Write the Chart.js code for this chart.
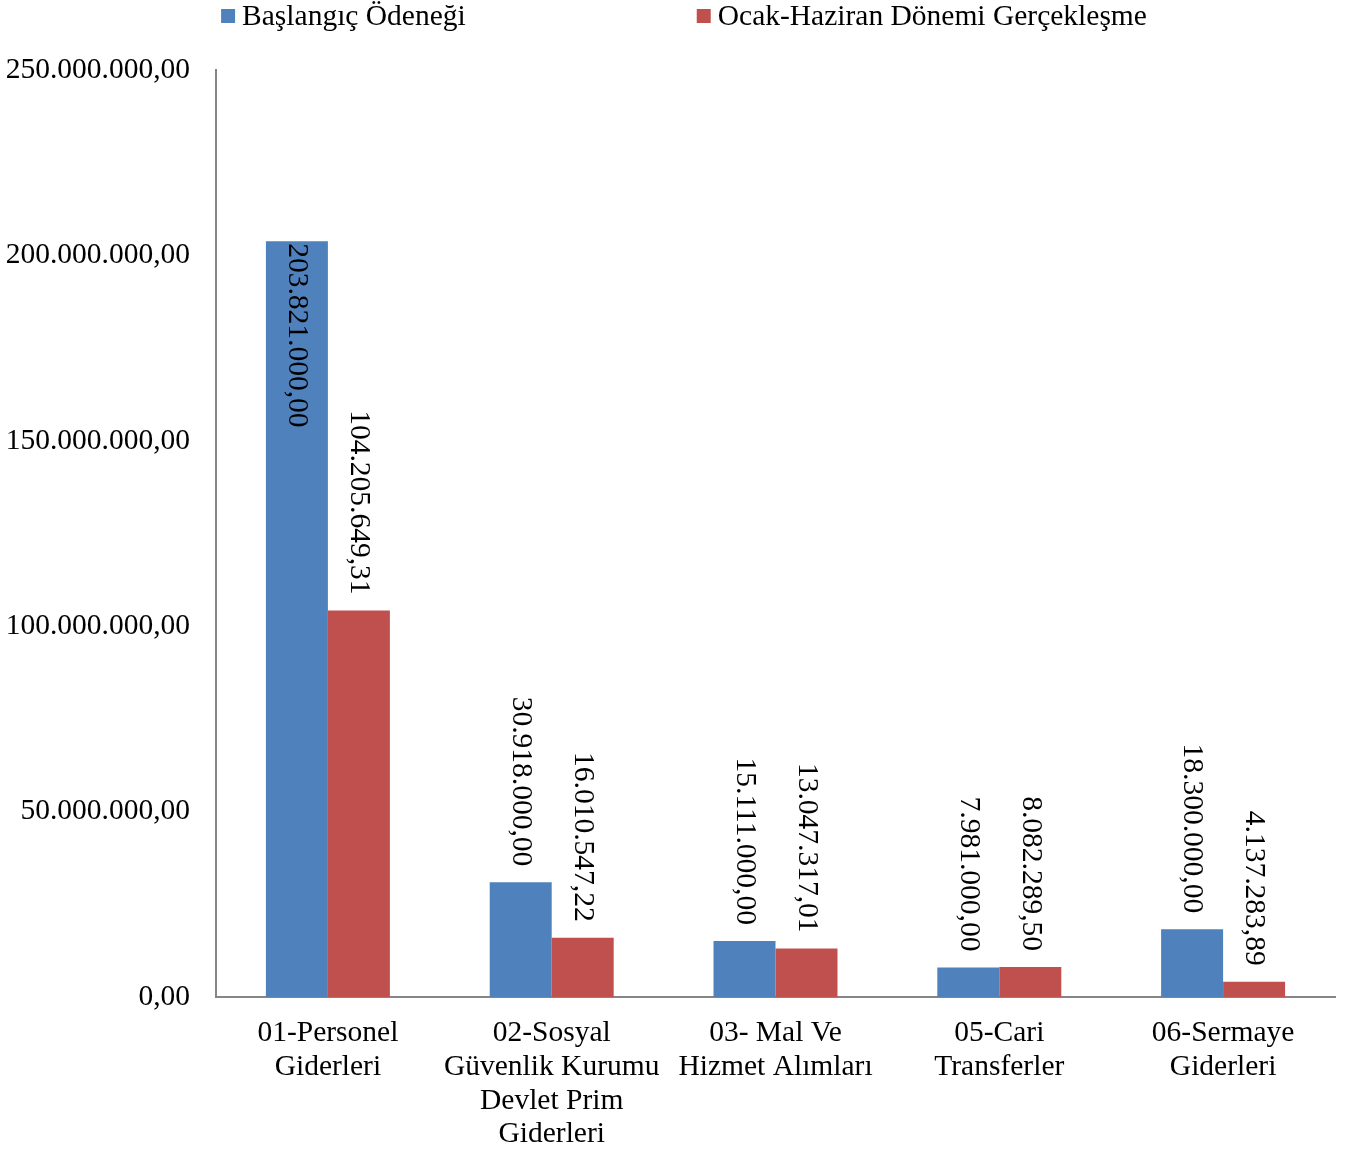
<!DOCTYPE html>
<html>
<head>
<meta charset="utf-8">
<script src="https://cdn.jsdelivr.net/npm/chart.js@4.4.0/dist/chart.umd.min.js"></script>
<style>
  html, body { margin: 0; padding: 0; background: #fff; }
  #wrap { width: 1352px; height: 1151px; position: relative; }
</style>
</head>
<body>
<div id="wrap"><canvas id="c"></canvas></div>
<script>
const categories = [
  ["01-Personel", "Giderleri"],
  ["02-Sosyal", "Güvenlik Kurumu", "Devlet Prim", "Giderleri"],
  ["03- Mal Ve", "Hizmet Alımları"],
  ["05-Cari", "Transferler"],
  ["06-Sermaye", "Giderleri"]
];
const seriesNames = ["Başlangıç Ödeneği", "Ocak-Haziran Dönemi Gerçekleşme"];
const baslangic = [203821000.00, 30918000.00, 15111000.00, 7981000.00, 18300000.00];
const gerceklesme = [104205649.31, 16010547.22, 13047317.01, 8082289.50, 4137283.89];
const yTicks = [0, 50000000, 100000000, 150000000, 200000000, 250000000];

const FONT = "'Liberation Serif', 'Times New Roman', serif";
const FSIZE = 29.5;
const COLORS = ["#4F81BD", "#C0504D"];

function fmtTR(v) {
  const fixed = Math.abs(v).toFixed(2);
  const [intPart, dec] = fixed.split(".");
  const withDots = intPart.replace(/\B(?=(\d{3})+(?!\d))/g, ".");
  return (v < 0 ? "-" : "") + withDots + "," + dec;
}

const legendPlugin = {
  id: "topLegend",
  afterDraw(chart) {
    const ctx = chart.ctx;
    ctx.save();
    ctx.font = FSIZE + "px " + FONT;
    ctx.textBaseline = "middle";
    ctx.textAlign = "left";
    const box = 14, gapText = 7, gapItems = 231;
    const widths = chart.data.datasets.map(d => box + gapText + ctx.measureText(d.label).width);
    const total = widths.reduce((a, b) => a + b, 0) + gapItems * (widths.length - 1);
    let x = (chart.width - total) / 2 + 8;
    const yMid = 16;
    chart.data.datasets.forEach((d, i) => {
      ctx.fillStyle = d.backgroundColor;
      ctx.fillRect(x, yMid - box / 2, box, box);
      ctx.fillStyle = "#000";
      ctx.fillText(d.label, x + box + gapText, yMid + 1);
      x += widths[i] + gapItems;
    });
    ctx.restore();
  }
};

const labelPlugin = {
  id: "rotLabels",
  afterDatasetsDraw(chart) {
    const ctx = chart.ctx;
    const area = chart.chartArea;
    ctx.save();
    ctx.font = FSIZE + "px " + FONT;
    ctx.fillStyle = "#000";
    ctx.textAlign = "left";
    ctx.textBaseline = "middle";
    chart.data.datasets.forEach((ds, di) => {
      const meta = chart.getDatasetMeta(di);
      meta.data.forEach((bar, i) => {
        const txt = fmtTR(ds.data[i]);
        const w = ctx.measureText(txt).width;
        const gap = 16;
        let yStart = bar.y - gap - w;
        if (yStart < area.top) yStart = bar.y + 2;
        ctx.save();
        ctx.translate(bar.x, yStart);
        ctx.rotate(Math.PI / 2);
        ctx.fillText(txt, 0, 0);
        ctx.restore();
      });
    });
    ctx.restore();
  }
};

new Chart(document.getElementById("c"), {
  type: "bar",
  data: {
    labels: categories,
    datasets: [
      { label: seriesNames[0], data: baslangic, backgroundColor: COLORS[0] },
      { label: seriesNames[1], data: gerceklesme, backgroundColor: COLORS[1] }
    ]
  },
  options: {
    responsive: true,
    maintainAspectRatio: false,
    animation: false,
    devicePixelRatio: 1,
    layout: { padding: { top: 70, right: 17, left: 0, bottom: 0 } },
    datasets: { bar: { categoryPercentage: 0.554, barPercentage: 1.0 } },
    plugins: {
      legend: { display: false },
      tooltip: { enabled: false }
    },
    scales: {
      x: {
        grid: { display: false, drawTicks: false },
        border: { display: true, color: "#868686", width: 2 },
        ticks: {
          color: "#000",
          font: { family: FONT, size: FSIZE, lineHeight: 1.15 },
          padding: 19,
          maxRotation: 0,
          minRotation: 0,
          autoSkip: false
        },
        afterFit(scale) { scale.height = 154; }
      },
      y: {
        min: 0,
        max: 250000000,
        afterBuildTicks(scale) { scale.ticks = yTicks.map(v => ({ value: v })); },
        grid: { display: false, drawTicks: false },
        border: { display: true, color: "#868686", width: 2 },
        ticks: {
          color: "#000",
          font: { family: FONT, size: FSIZE },
          padding: 26,
          callback: v => fmtTR(v)
        },
        afterFit(scale) { scale.width = 216; }
      }
    }
  },
  plugins: [legendPlugin, labelPlugin]
});
</script>
</body>
</html>
